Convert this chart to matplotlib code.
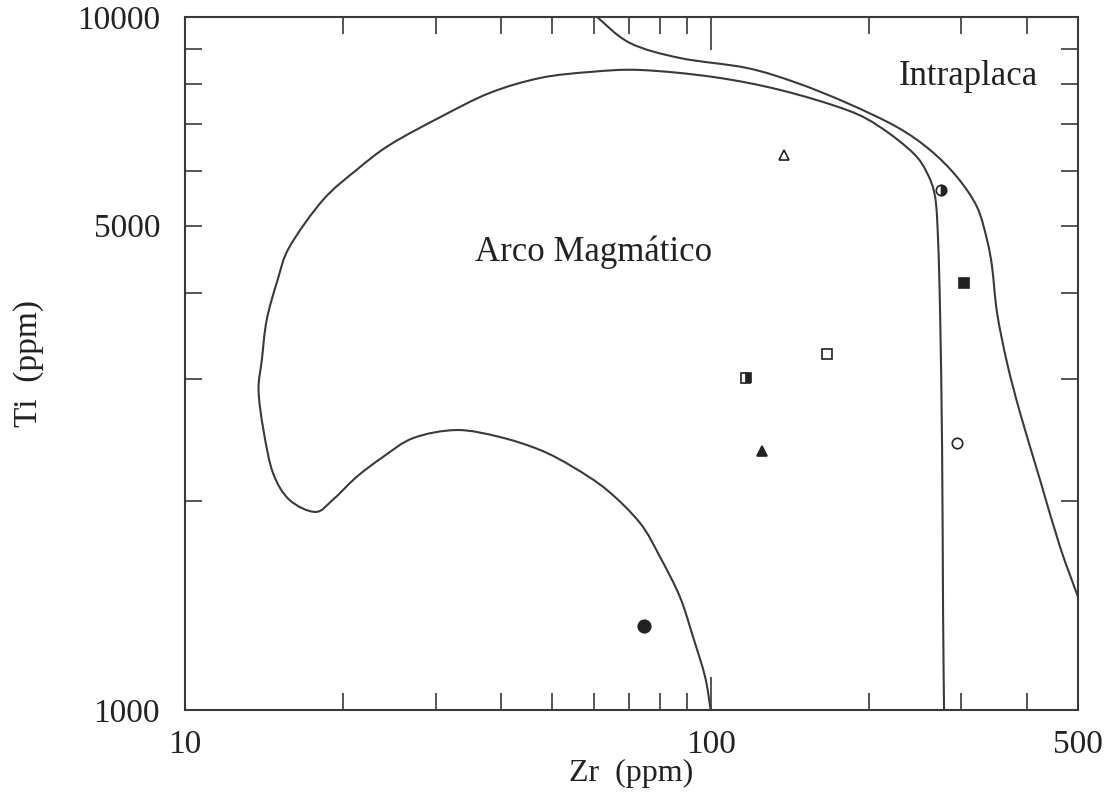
import numpy as np
import matplotlib.pyplot as plt
from matplotlib.patches import PathPatch
from matplotlib.path import Path
from matplotlib.ticker import FixedLocator, NullFormatter

plt.rcParams["font.family"] = ["Liberation Serif", "DejaVu Serif"]

# boundary of the "Arco Magmático" field (Zr, Ti in ppm)
arc_zr = [100, 97.6, 92.6, 87.4, 80.1, 73.4, 63.5, 54.7, 47.4, 39.7, 32.9,
          27.2, 23.8, 21.2, 19.1, 17.7, 15.8, 14.7, 14.1, 13.8, 14.0, 14.3,
          15.0, 15.8, 18.3, 21.2, 24.5, 30.6, 38.0, 47.4, 58.9, 73.4, 101.1,
          135.5, 181.8, 210.1, 242.7, 258.0, 267.3, 270.8, 273.2, 275.6,
          276.8, 278.0]
arc_ti = [1000, 1116, 1274, 1456, 1663, 1861, 2077, 2242, 2372, 2477, 2535,
          2469, 2318, 2169, 2010, 1931, 2010, 2198, 2535, 2895, 3200, 3654,
          4173, 4658, 5445, 6016, 6536, 7171, 7770, 8166, 8330, 8386, 8193,
          7848, 7340, 6937, 6365, 5957, 5499, 4767, 3740, 2396, 1380, 1000]

# boundary of the "Intraplaca" field
wp_zr = [60.8, 70.2, 87.4, 117.3, 146.0, 181.8, 226.2, 261.5, 294.2, 321.2,
         335.6, 343.1, 350.7, 366.4, 387.9, 423.4, 462.1, 500]
wp_ti = [10000, 9173, 8726, 8441, 8031, 7513, 6937, 6428, 5877, 5319, 4767,
         4357, 3740, 3168, 2683, 2147, 1719, 1456]

# samples
sample_zr = [137.9, 274.4, 303.5, 166.5, 116.8, 294.2, 125.3, 74.7]
sample_ti = [6324, 5628, 4130, 3264, 3013, 2427, 2364, 1322]
sample_marker = ["^", "o", "s", "s", "s", "o", "^", "o"]
sample_fill = ["none", "right", "full", "none", "right", "none", "full", "full"]

ink = "#3a3a3a"


def smooth_path(xs, ys):
    # Catmull-Rom through the traced points, as cubic Beziers in log space
    lx, ly = np.log10(xs), np.log10(ys)
    pts = np.column_stack([lx, ly])
    verts = [pts[0]]
    codes = [Path.MOVETO]
    n = len(pts)
    for i in range(n - 1):
        p0 = pts[max(i - 1, 0)]
        p1 = pts[i]
        p2 = pts[i + 1]
        p3 = pts[min(i + 2, n - 1)]
        verts += [p1 + (p2 - p0) / 6, p2 - (p3 - p1) / 6, p2]
        codes += [Path.CURVE4] * 3
    return Path(10 ** np.array(verts), codes)


fig = plt.figure(figsize=(11.16, 7.94), dpi=100)
ax = fig.add_axes([0.1658, 0.1058, 0.8002, 0.8728])
ax.set_xscale("log")
ax.set_yscale("log")
ax.set_xlim(10, 500)
ax.set_ylim(1000, 10000)

for xs, ys in [(arc_zr, arc_ti), (wp_zr, wp_ti)]:
    ax.add_patch(PathPatch(smooth_path(xs, ys), facecolor="none",
                           edgecolor=ink, linewidth=1.5))

for zr, ti, m, f in zip(sample_zr, sample_ti, sample_marker, sample_fill):
    size = 9 if zr < 80 else 7.5
    ax.plot(zr, ti, marker=m, linestyle="none", markersize=size,
            fillstyle=f, color="#222222", markerfacecoloralt="white",
            markeredgewidth=1.2)

ax.text(60, 4580, "Arco Magmático", fontsize=25, ha="center", va="center",
        color="#222222")
ax.text(309, 8193, "Intraplaca", fontsize=25, ha="center", va="center",
        color="#222222")

ax.xaxis.set_major_locator(FixedLocator([10, 100, 500]))
ax.xaxis.set_minor_locator(FixedLocator([20, 30, 40, 50, 60, 70, 80, 90,
                                         200, 300, 400]))
ax.yaxis.set_major_locator(FixedLocator([1000, 5000, 10000]))
ax.yaxis.set_minor_locator(FixedLocator([2000, 3000, 4000, 6000, 7000,
                                         8000, 9000]))
ax.set_xticklabels(["10", "100", "500"])
ax.set_yticklabels(["1000", "5000", "10000"])
ax.xaxis.set_minor_formatter(NullFormatter())
ax.yaxis.set_minor_formatter(NullFormatter())

ax.tick_params(which="both", direction="in", top=True, right=True,
               color=ink, labelsize=24, labelcolor="#222222")
ax.tick_params(axis="x", which="major", length=24, width=1.2, pad=14)
ax.tick_params(axis="y", which="major", length=12, width=1.2, pad=18)
ax.tick_params(which="minor", length=12, width=1.2)

for spine in ax.spines.values():
    spine.set_color(ink)
    spine.set_linewidth(1.5)

ax.set_xlabel("Zr  (ppm)", fontsize=23, color="#222222", labelpad=-1)
ax.set_ylabel("Ti  (ppm)", fontsize=24, color="#222222", labelpad=24)

fig.savefig("out.png", dpi=100, facecolor="white")
